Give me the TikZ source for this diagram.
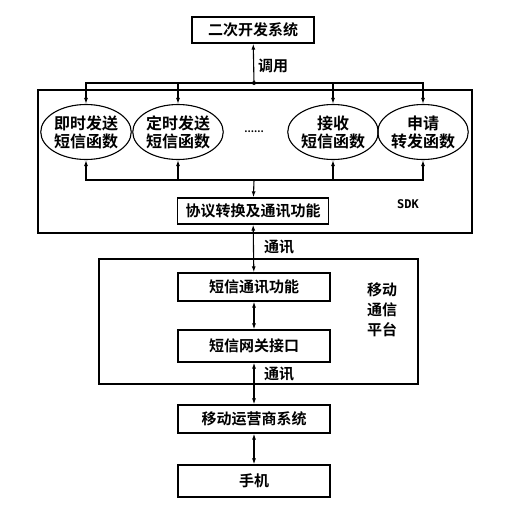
\documentclass[tikz,border=0pt]{standalone}
\usepackage{fontspec}
\setmainfont{Noto Sans CJK SC}[BoldFont={* Bold}]
\newfontfamily\sdkfont{DejaVu Sans Mono}
\usetikzlibrary{arrows.meta, shapes.geometric, calc}
\def\tip{Latex[length=6pt,width=4pt]}
\tikzset{box/.style={draw, line width=1.3pt, inner sep=0pt, font=\fontsize{15}{17}\selectfont\bfseries}}
\tikzset{func/.style={draw, ellipse, line width=1.1pt, inner sep=0pt, minimum width=78pt, minimum height=55pt, align=center, font=\fontsize{16}{18}\selectfont\bfseries}}
\tikzset{frame/.style={draw, line width=1.2pt}}
\tikzset{arr/.style={line width=1.1pt, -{\tip}}}
\tikzset{dbl/.style={line width=1.1pt, {\tip}-{\tip}}}
\tikzset{lbl/.style={anchor=west, inner sep=0pt, font=\fontsize{15}{17}\selectfont\bfseries}}

\begin{document}
\begin{tikzpicture}[x=1pt, y=-1pt]
  \useasboundingbox (0,0) rectangle (521,509);
  % Frames
  \draw[frame] (38,90) rectangle (472,233);
  \draw[frame] (99,259) rectangle (418,384);
  \node[inner sep=0pt, font=\sdkfont\bfseries\fontsize{12}{14}\selectfont] (sdk) at (408,204) {SDK};
  \node[inner sep=0pt, align=center, font=\fontsize{15}{20}\selectfont\bfseries] (mtp) at (382,310) {移动\\通信\\平台};
  % Boxes
  \node[box, minimum width=122pt, minimum height=26pt] (sys) at (253,30) {二次开发系统};
  \node[box, minimum width=151pt, minimum height=26pt] (proto) at (253,211) {协议转换及通讯功能};
  \node[box, minimum width=152pt, minimum height=28pt] (sms) at (254,287) {短信通讯功能};
  \node[box, minimum width=152pt, minimum height=32pt] (gw) at (254,346) {短信网关接口};
  \node[box, minimum width=152pt, minimum height=28pt] (op) at (254,419) {移动运营商系统};
  \node[box, minimum width=152pt, minimum height=32pt] (phone) at (254,481) {手机};
  % Functions
  \node[func] (f1) at (86,132) {即时发送\\短信函数};
  \node[func] (f2) at (178,132) {定时发送\\短信函数};
  \node[func] (f3) at (333,132) {接收\\短信函数};
  \node[func] (f4) at (423,132) {申请\\转发函数};
  \node[inner sep=0pt, font=\bfseries] (dots) at (254,132) {......};
  \coordinate (jt) at (254,83);
  \coordinate (jb) at (254,180);
  % Connectors
  \draw[arr] (jt) -- (sys);
  \fill (jt) circle (2pt);
  \node[lbl] (call) at (258,66) {调用};
  \foreach \f in {f1,f2,f3,f4} {
    \draw[arr] (jt) -| (\f);
    \draw[arr] (jb) -| (\f);
  }
  \draw[arr] (jb) -- (proto);
  \draw[dbl] (proto) -- (sms);
  \node[lbl] (com1) at (264,247) {通讯};
  \draw[dbl] (sms) -- (gw);
  \draw[dbl] (gw) -- (op);
  \node[lbl] (com2) at (264,374) {通讯};
  \draw[dbl] (op) -- (phone);
\end{tikzpicture}
\end{document}
